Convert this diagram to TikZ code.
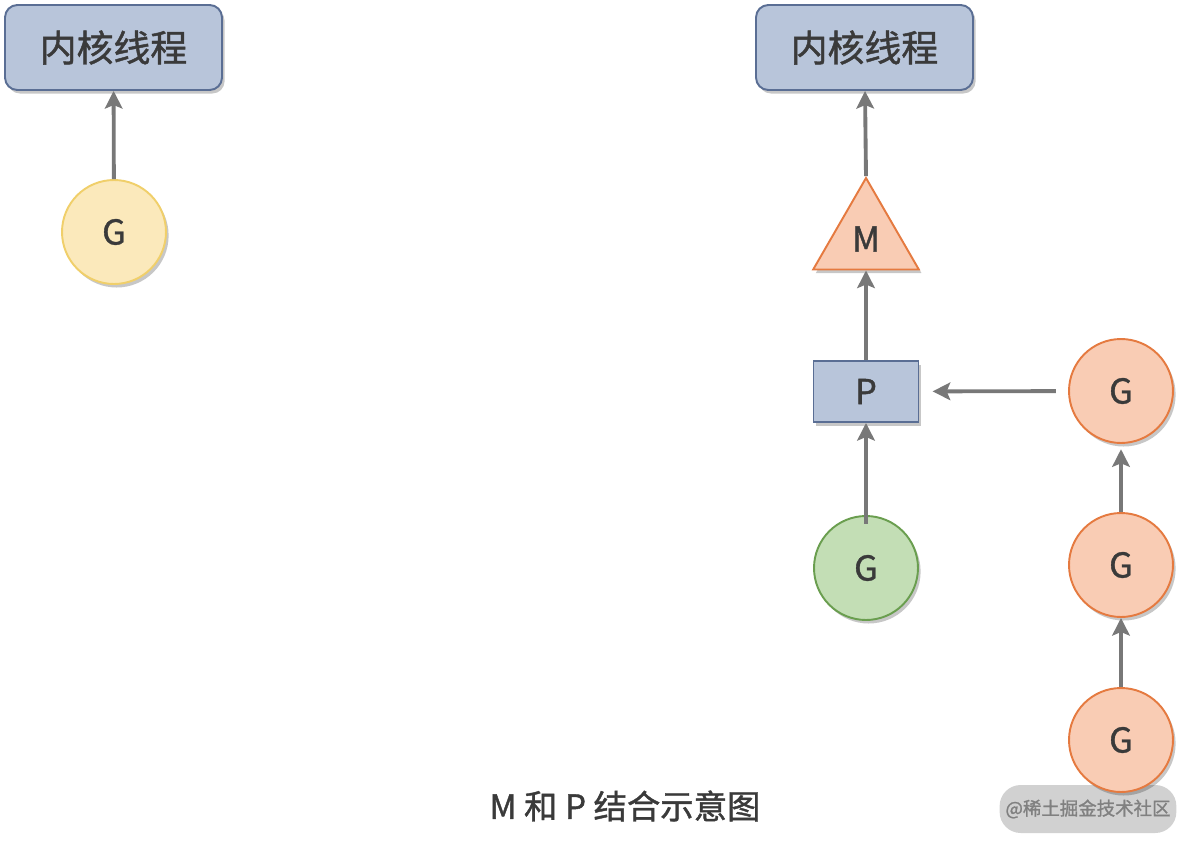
\documentclass[tikz,border=0pt]{standalone}
\usepackage{fontspec}
\setmainfont[FakeBold=1.2]{Noto Sans CJK SC}
\usetikzlibrary{shapes.geometric,shadows,arrows.meta}
\definecolor{kfill}{HTML}{B8C5DA}
\definecolor{kline}{HTML}{5A6E94}
\definecolor{yfill}{HTML}{FBE9BB}
\definecolor{yline}{HTML}{F0CF6A}
\definecolor{gfill}{HTML}{C3DEB5}
\definecolor{gline}{HTML}{6A9E4F}
\definecolor{ofill}{HTML}{F9CCB4}
\definecolor{oline}{HTML}{E57A40}
\definecolor{arrgray}{HTML}{787878}
\definecolor{txt}{HTML}{3A3A3A}
\tikzset{
  shade/.style={drop shadow={shadow xshift=1.5pt,shadow yshift=-2pt,opacity=0.22,fill=black}},
  kernel/.style={draw=kline,fill=kfill,line width=1.1pt,rounded corners=7pt,shade,
    minimum width=4.34cm,minimum height=1.7cm,font=\fontsize{21}{24}\selectfont,text=txt},
  gor/.style={circle,line width=1.1pt,shade,minimum size=2.08cm,inner sep=0pt,
    font=\fontsize{19.5}{22}\selectfont,text=txt},
  mach/.style={regular polygon,regular polygon sides=3,draw=oline,fill=ofill,line width=1.1pt,
    shade,minimum size=2.44cm,inner sep=0pt,font=\fontsize{19.5}{22}\selectfont,text=txt},
  proc/.style={draw=kline,fill=kfill,line width=1.1pt,shade,minimum width=2.1cm,
    minimum height=1.22cm,inner sep=0pt,font=\fontsize{19.5}{22}\selectfont,text=txt},
  arr/.style={line width=2.2pt,draw=arrgray,-{Stealth[length=10pt,width=10pt,inset=2pt]}},
}
\begin{document}
\begin{tikzpicture}[x=0.02cm,y=-0.02cm]
\useasboundingbox(0,0)rectangle(1188,849);
%左：G直接在内核线程上
\node[kernel](k1)at(113.5,47.5){内核线程};
\node[gor,draw=yline,fill=yfill](g0)at(114,232){G};
\draw[arr](g0)--(k1);
%右：M和P
\node[kernel](k2)at(864.5,47.5){内核线程};
\node[mach](m)at(866,239){M};
\node[proc](p)at(866,391.5){P};
\node[gor,draw=gline,fill=gfill](gg)at(866,568){G};
\draw[arr](m.corner 1)--(k2);
\draw[arr](p)--(m.side 2);
\draw[arr,shorten <=-5pt](gg)--(p);
%等待队列
\node[fill=black!18,rounded corners=12pt,minimum width=3.2cm,minimum height=0.96cm,
  text=black!50,font=\fontsize{10.5}{12}\selectfont](wm)at(1088,809){@稀土掘金技术社区};
\node[gor,draw=oline,fill=ofill](q1)at(1121,391){G};
\node[gor,draw=oline,fill=ofill](q2)at(1121,565){G};
\node[gor,draw=oline,fill=ofill](q3)at(1121,740){G};
\draw[arr,shorten <=7pt,shorten >=7.5pt](q1)--(p);
\draw[arr,shorten >=3pt](q2)--(q1);
\draw[arr](q3)--(q2);
%标题
\node[text=txt,font=\fontsize{19}{22}\selectfont](cap)at(625,806){M 和 P 结合示意图};
\end{tikzpicture}
\end{document}
